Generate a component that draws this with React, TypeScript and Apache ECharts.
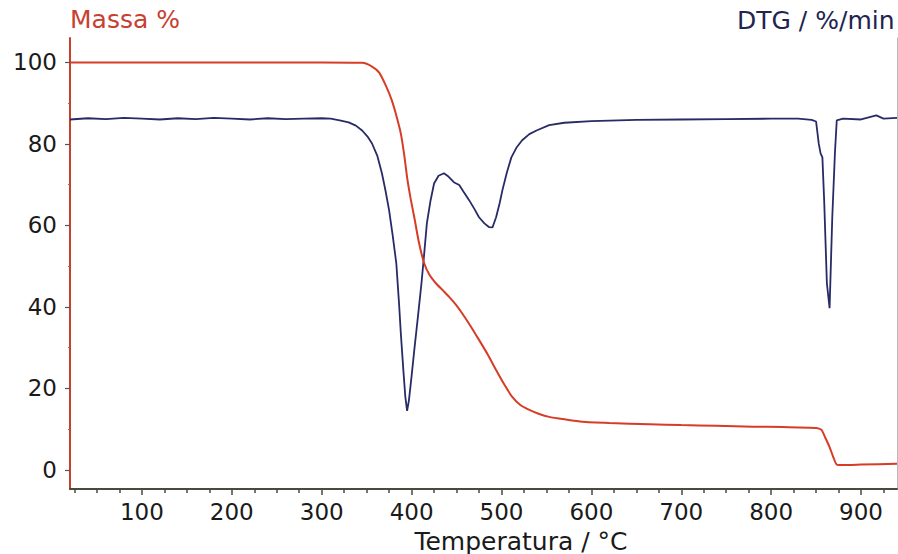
import React, { useEffect, useRef } from "react";
import * as echarts from "echarts";

// Mass (%) curve: temperature (°C) and value
const massT = [20, 100, 200, 300, 345, 356, 364, 372, 378, 383, 388, 392, 395, 399, 403, 408, 414, 420, 427, 435, 442, 449, 456, 465, 475, 485, 494, 503, 512, 521, 531, 542, 553, 570, 590, 620, 665, 700, 739, 780, 813, 850, 856, 860, 865, 869, 873, 880, 900, 940];
const massV = [100, 100, 100, 100, 99.9, 99, 97.5, 94, 90.7, 87, 82.6, 77, 71.8, 66.5, 62, 56, 50.7, 47.8, 45.8, 44, 42.4, 40.6, 38.5, 35.5, 31.9, 28.2, 24.5, 21, 17.9, 15.9, 14.7, 13.7, 13, 12.4, 11.8, 11.5, 11.2, 11, 10.8, 10.6, 10.5, 10.3, 9.8, 8, 5.6, 3.2, 1.3, 1.2, 1.3, 1.5];

// DTG curve (drawn in the left axis' units, as on the picture)
const dtgT = [20, 40, 60, 80, 100, 120, 140, 160, 180, 200, 220, 240, 260, 280, 300, 310, 320, 330, 338, 345, 351, 356, 362, 367, 371, 375, 379, 383, 386, 388, 391, 393, 395, 397, 400, 403, 407, 411, 414, 417, 421, 425, 430, 436, 441, 447, 453, 458, 464, 470, 475, 481, 486, 490, 494, 498, 501, 506, 511, 517, 523, 531, 539, 553, 570, 600, 650, 700, 750, 800, 830, 845, 850, 853, 855, 857, 859, 862, 865, 868, 871, 873, 880, 900, 917, 925, 940];
const dtgV = [86.0, 86.3, 86.1, 86.4, 86.2, 86.0, 86.3, 86.1, 86.4, 86.2, 86.0, 86.3, 86.1, 86.2, 86.3, 86.2, 85.8, 85.3, 84.5, 83.3, 81.8, 80.1, 77, 72.8, 68.5, 63.7, 57.5, 50.7, 41, 33.6, 24, 18, 14.5, 17, 23, 29.4, 37.5, 45.8, 53, 60.5, 66, 70.3, 72.2, 72.8, 72, 70.6, 69.9, 68.2, 66.2, 64, 62, 60.5, 59.6, 59.5, 62, 65.5, 68.6, 73, 76.7, 79.2, 80.9, 82.4, 83.3, 84.6, 85.2, 85.6, 85.9, 86.0, 86.1, 86.2, 86.2, 85.9, 85.5, 80, 77.7, 76.7, 66, 45.8, 39.7, 62, 78, 85.8, 86.2, 86.0, 87, 86.2, 86.4];

const xMajorTicks = [100, 200, 300, 400, 500, 600, 700, 800, 900];
const xMinorTicks = [25, 50, 75, 125, 150, 175, 225, 250, 275, 325, 350, 375, 425, 450, 475, 525, 550, 575, 625, 650, 675, 725, 750, 775, 825, 850, 875, 925];
const yMajorTicks = [0, 20, 40, 60, 80, 100];
const yMinorTicks = [10, 30, 50, 70, 90];

const FONT = "DejaVu Sans";
const X_MIN = 20;
const X_MAX = 940;
const Y_MIN = -4.7;
const Y_MAX = 106;

export default function App() {
  const ref = useRef<HTMLDivElement>(null);

  useEffect(() => {
    if (!ref.current) return;
    const chart = echarts.init(ref.current, null, { renderer: "svg" });
    const massData = massT.map((t, i) => [t, massV[i]]);
    const dtgData = dtgT.map((t, i) => [t, dtgV[i]]);

    chart.setOption({
      animation: false,
      backgroundColor: "#ffffff",
      grid: { left: 70, right: 1, top: 38, bottom: 65, containLabel: false },
      xAxis: [
        {
          type: "value",
          min: X_MIN,
          max: X_MAX,
          position: "bottom",
          axisLine: { show: true, onZero: false, lineStyle: { color: "#4a4a3c", width: 2 } },
          axisTick: { show: true, customValues: xMajorTicks, length: 6, lineStyle: { color: "#4a4a3c", width: 1.5 } },
          axisLabel: { customValues: xMajorTicks, fontSize: 23, color: "#1a1a1a", margin: 11, fontFamily: FONT },
          splitLine: { show: false },
        },
        {
          type: "value",
          min: X_MIN,
          max: X_MAX,
          position: "bottom",
          axisLine: { show: false, onZero: false },
          axisTick: { show: true, customValues: xMinorTicks, length: 4, lineStyle: { color: "#4a4a3c", width: 1.5 } },
          axisLabel: { show: false },
          splitLine: { show: false },
        },
      ],
      yAxis: [
        {
          type: "value",
          min: Y_MIN,
          max: Y_MAX,
          position: "left",
          axisLine: { show: true, onZero: false, lineStyle: { color: "#c9402a", width: 2 } },
          axisTick: { show: true, customValues: yMajorTicks, length: 5, lineStyle: { color: "#555", width: 1.2 } },
          axisLabel: { customValues: yMajorTicks, fontSize: 23, color: "#1a1a1a", margin: 13, fontFamily: FONT },
          splitLine: { show: false },
        },
        {
          type: "value",
          min: Y_MIN,
          max: Y_MAX,
          position: "left",
          axisLine: { show: false, onZero: false },
          axisTick: { show: true, customValues: yMinorTicks, length: 2, lineStyle: { color: "#777", width: 1.2 } },
          axisLabel: { show: false },
          splitLine: { show: false },
        },
        {
          type: "value",
          min: Y_MIN,
          max: Y_MAX,
          position: "right",
          axisLine: { show: true, onZero: false, lineStyle: { color: "#b8b8b8", width: 1 } },
          axisTick: { show: false },
          axisLabel: { show: false },
          splitLine: { show: false },
        },
      ],
      graphic: [
        {
          type: "text",
          left: 70,
          top: 7,
          style: { text: "Massa %", fontSize: 25, fill: "#c8402f", fontFamily: FONT },
        },
        {
          type: "text",
          left: 737,
          top: 8,
          style: { text: "DTG / %/min", fontSize: 25, fill: "#1f2450", fontFamily: FONT },
        },
        {
          type: "text",
          x: 521,
          y: 541,
          style: {
            text: "Temperatura / °C",
            fontSize: 25,
            fill: "#1a1a1a",
            fontFamily: FONT,
            textAlign: "center",
            textVerticalAlign: "middle",
          },
        },
      ],
      series: [
        {
          name: "DTG",
          type: "line",
          xAxisIndex: 0,
          yAxisIndex: 0,
          data: dtgData,
          showSymbol: false,
          lineStyle: { color: "#272b66", width: 1.8 },
          z: 2,
        },
        {
          name: "Massa",
          type: "line",
          xAxisIndex: 0,
          yAxisIndex: 0,
          data: massData,
          showSymbol: false,
          smooth: 0.2,
          lineStyle: { color: "#d63c26", width: 2 },
          z: 3,
        },
      ],
    });

    return () => chart.dispose();
  }, []);

  return (
    <div
      ref={ref}
      style={{ position: "fixed", left: 0, top: 0, width: 898, height: 554, background: "#fff" }}
    />
  );
}
